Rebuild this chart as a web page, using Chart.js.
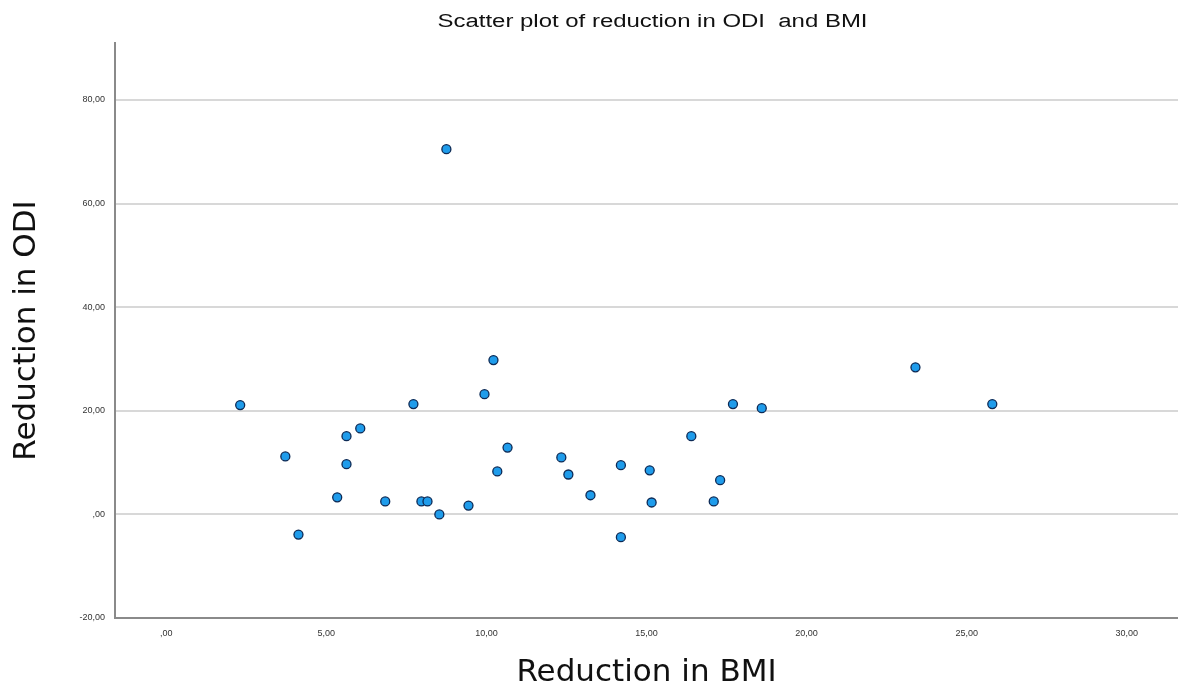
<!DOCTYPE html>
<html>
<head>
<meta charset="utf-8">
<script src="https://cdn.jsdelivr.net/npm/chart.js@4/dist/chart.umd.min.js"></script>
<style>
  html, body { margin: 0; padding: 0; background: #fff; }
  #myChart { display: block; }
</style>
</head>
<body>
<canvas id="myChart" width="1178" height="692"></canvas>
<script>
// Data
// --------------------------------------------
let bmi = [2.31, 3.72, 4.13, 5.34, 5.63, 5.63, 6.06, 6.84, 7.72, 7.97, 8.16, 8.53, 8.75, 9.44, 9.94, 10.22,
    10.34, 10.66, 12.34, 12.56, 13.25, 14.2, 14.2, 15.1, 15.16, 16.4, 17.1, 17.3, 17.7, 18.6, 23.4, 25.8]
let odi = [21.1, 11.2, -3.9, 3.3, 15.1, 9.7, 16.6, 2.5, 21.3, 2.5, 2.5, 0, 70.5, 1.7, 23.2, 29.8,
    8.3, 12.9, 11.0, 7.7, 3.7, 9.5, -4.4, 8.5, 2.3, 15.1, 2.5, 6.6, 21.3, 20.5, 28.4, 21.3]

let chartTitle = 'Scatter plot of reduction in ODI  and BMI'
let xTitle = 'Reduction in BMI'
let yTitle = 'Reduction in ODI'

let points = []
for (let i = 0; i < bmi.length; i++) {
    points.push({ x: bmi[i], y: odi[i] })
}

// SPSS style number labels: ",00", "5,00", "-20,00"
function spssLabel(v) {
    if (Math.abs(v) < 1e-9) return ',00'
    return v.toFixed(2).replace('.', ',')
}

// Title centred over the plot area
// --------------------------------------------
const titlePlugin = {
    id: 'plotTitle',
    afterDraw(chart) {
        const ctx = chart.ctx
        const area = chart.chartArea
        ctx.save()
        ctx.font = '18px "Liberation Sans", Arial, sans-serif'
        ctx.fillStyle = '#111'
        ctx.textAlign = 'center'
        ctx.textBaseline = 'middle'
        const w = ctx.measureText(chartTitle).width
        const cx = (area.left + area.right) / 2 + 6
        ctx.translate(cx, 22)
        ctx.scale(430 / w, 1)
        ctx.fillText(chartTitle, 0, 0)
        ctx.restore()
    }
}

const ctx = document.getElementById('myChart').getContext('2d')
const myChart = new Chart(ctx, {
    type: 'scatter',
    data: {
        datasets: [{
            label: 'ODI vs BMI',
            data: points,
            backgroundColor: '#1f9ceb',
            borderColor: '#0d2a55',
            borderWidth: 1.3,
            pointRadius: 4.5,
            pointHoverRadius: 4.5
        }]
    },
    options: {
        responsive: false,
        animation: false,
        layout: { autoPadding: false, padding: { top: 43, right: 0, left: 0, bottom: 0 } },
        plugins: {
            legend: { display: false },
            tooltip: { enabled: false },
            title: { display: false }
        },
        scales: {
            x: {
                type: 'linear',
                min: -1.6,
                max: 31.6,
                afterFit: s => { s.height = 74 },
                border: { display: true, color: '#8a8a8a', width: 2 },
                grid: { display: false, drawTicks: false },
                ticks: {
                    stepSize: 5,
                    includeBounds: false,
                    padding: 10,
                    maxRotation: 0,
                    color: '#333',
                    font: { family: '"Liberation Sans", Arial, sans-serif', size: 9 },
                    callback: v => spssLabel(v)
                },
                title: {
                    display: true,
                    text: xTitle,
                    color: '#111',
                    font: { family: '"DejaVu Sans", sans-serif', size: 31 },
                    padding: { top: 2, bottom: 0 }
                }
            },
            y: {
                type: 'linear',
                min: -20,
                max: 91,
                afterFit: s => { s.width = 115 },
                border: { display: true, color: '#8a8a8a', width: 2 },
                grid: { color: '#d8d8d8', lineWidth: 2, drawTicks: false },
                ticks: {
                    stepSize: 20,
                    includeBounds: false,
                    padding: 10,
                    color: '#333',
                    font: { family: '"Liberation Sans", Arial, sans-serif', size: 9 },
                    callback: v => spssLabel(v)
                },
                title: {
                    display: true,
                    text: yTitle,
                    color: '#111',
                    font: { family: '"DejaVu Sans", sans-serif', size: 31 },
                    padding: { top: 8, bottom: 0 }
                }
            }
        }
    },
    plugins: [titlePlugin]
})
</script>
</body>
</html>
